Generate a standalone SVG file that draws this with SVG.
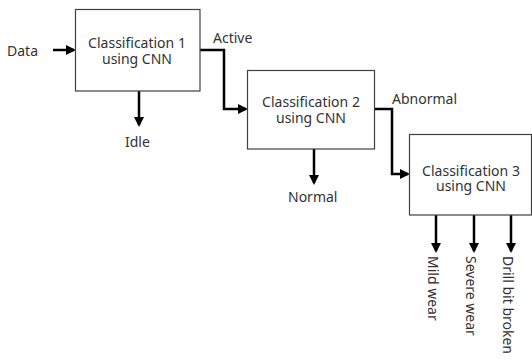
<svg xmlns="http://www.w3.org/2000/svg" width="532" height="363" viewBox="0 0 532 363">
<defs>
<marker id="ah" markerWidth="4" markerHeight="4" refX="3.2" refY="2" orient="auto" markerUnits="strokeWidth">
<path d="M0,0 L4,2 L0,4 z" fill="#000"/>
</marker>
<style>
.box{fill:#fff;stroke:#404040;stroke-width:1.2}
.t{font-family:"Noto Sans",sans-serif;font-size:14px;fill:#333}
.c{text-anchor:middle}
.ln{fill:none;stroke:#000;stroke-width:2.5;marker-end:url(#ah)}
</style>
</defs>
<rect width="532" height="363" fill="#fff"/>
<g id="connectors">
<path class="ln" d="M53,50 L74,50"/>
<path class="ln" d="M200,50 L224,50 L224,109 L246,109"/>
<path class="ln" d="M139,91 L139,125"/>
<path class="ln" d="M375,109 L392,109 L392,174 L408,174"/>
<path class="ln" d="M314,149 L314,183"/>
<path class="ln" d="M436,215 L436,251"/>
<path class="ln" d="M474,215 L474,251"/>
<path class="ln" d="M511,215 L511,251"/>
</g>
<g id="data"><text class="t" x="7" y="56">Data</text></g>
<g id="n1">
<rect class="box" x="75.5" y="9.5" width="124.5" height="81.5"/>
<text class="t c"><tspan x="137" y="48">Classification 1</tspan><tspan x="137" y="64">using CNN</tspan></text>
</g>
<g id="active"><text class="t" x="213" y="43">Active</text></g>
<g id="idle"><text class="t" x="125" y="147">Idle</text></g>
<g id="n2">
<rect class="box" x="247.5" y="70.5" width="127" height="78.5"/>
<text class="t c"><tspan x="311" y="107">Classification 2</tspan><tspan x="311" y="123">using CNN</tspan></text>
</g>
<g id="abnormal"><text class="t" x="392" y="104">Abnormal</text></g>
<g id="normal"><text class="t" x="288" y="202">Normal</text></g>
<g id="n3">
<rect class="box" x="409.5" y="134.5" width="122" height="80.5"/>
<text class="t c"><tspan x="471" y="176">Classification 3</tspan><tspan x="471" y="191">using CNN</tspan></text>
</g>
<g id="mild"><text class="t" transform="translate(428,256) rotate(90)">Mild wear</text></g>
<g id="severe"><text class="t" transform="translate(466,256) rotate(90)">Severe wear</text></g>
<g id="broken"><text class="t" transform="translate(503,256) rotate(90)">Drill bit broken</text></g>
</svg>
